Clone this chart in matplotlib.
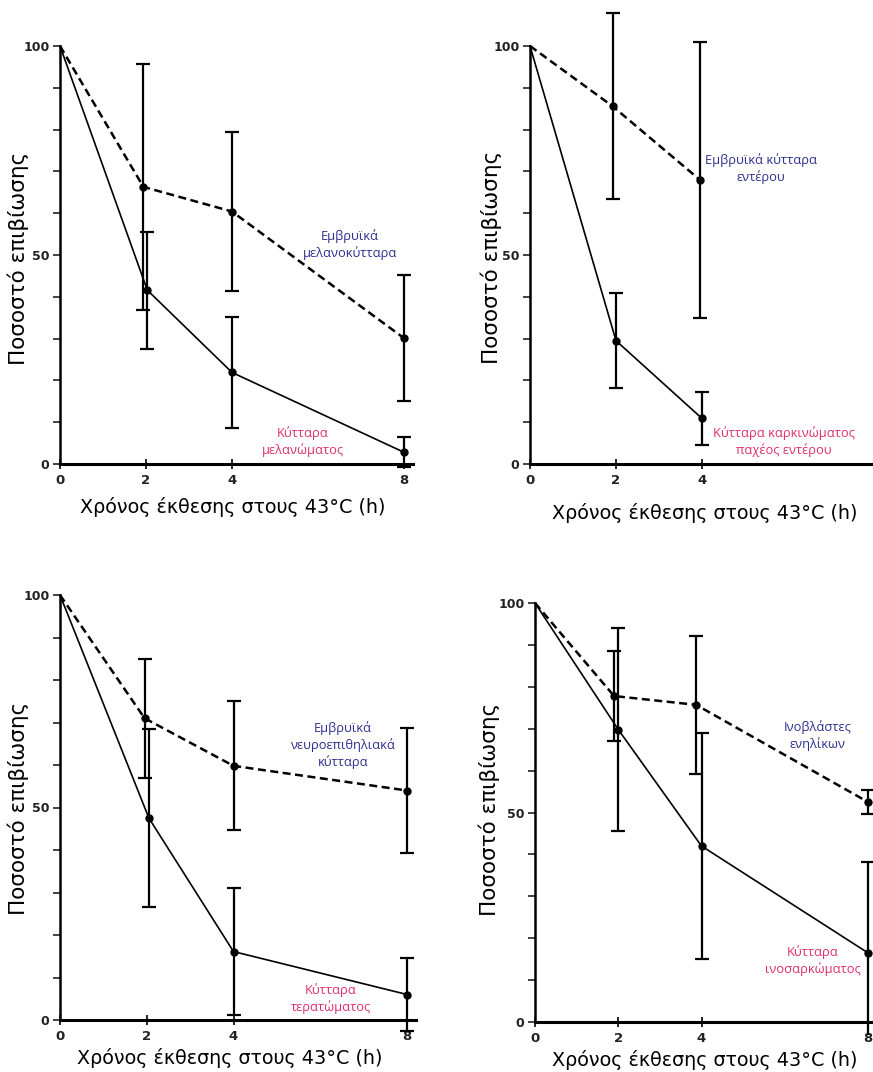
import matplotlib
matplotlib.use("Agg")
import matplotlib.pyplot as plt
from matplotlib.ticker import FixedLocator

W, H = 873, 1072

# panel 1: embryonic melanocytes vs melanoma
p1_x_dash = [0, 1.94, 4, 8]
p1_y_dash = [100, 66.3, 60.4, 30.1]
p1_e_dash = [29.4, 19.0, 15.0]
p1_x_sol = [0, 2.03, 4, 8]
p1_y_sol = [100, 41.6, 21.9, 2.8]
p1_e_sol = [14.0, 13.2, 3.6]

# panel 2: embryonic intestine vs colon carcinoma
p2_x_dash = [0, 1.92, 3.96]
p2_y_dash = [100, 85.6, 67.9]
p2_e_dash = [22.2, 33.0]
p2_x_sol = [0, 2.0, 4.0]
p2_y_sol = [100, 29.5, 10.9]
p2_e_sol = [11.3, 6.3]

# panel 3: embryonic neuroepithelial vs teratoma
p3_x_dash = [0, 1.95, 4, 8]
p3_y_dash = [100, 71.0, 59.8, 54.0]
p3_e_dash = [14.0, 15.2, 14.6]
p3_x_sol = [0, 2.05, 4, 8]
p3_y_sol = [100, 47.5, 16.1, 6.0]
p3_e_sol = [21.0, 15.0, 8.7]

# panel 4: adult fibroblasts vs fibrosarcoma
p4_x_dash = [0, 1.9, 3.87, 8]
p4_y_dash = [100, 77.8, 75.7, 52.5]
p4_e_dash = [10.7, 16.5, 2.8]
p4_x_sol = [0, 2.0, 4.0, 8]
p4_y_sol = [100, 69.8, 42.0, 16.5]
p4_e_sol = [24.3, 27.0, 21.7]

xlabel = "Χρόνος έκθεσης στους 43°C (h)"
ylabel = "Ποσοστό επιβίωσης"
blue = "#2e2f8f"
pink = "#e0306a"

fig = plt.figure(figsize=(W / 100, H / 100), dpi=100)


def place(px0, px8, py0, py100, xlim, ylim):
    sx = (px8 - px0) / 8.0
    sy = (py0 - py100) / 100.0
    left = px0 + xlim[0] * sx
    right = px0 + xlim[1] * sx
    bottom = py0 - ylim[0] * sy
    top = py0 - ylim[1] * sy
    ax = fig.add_axes([left / W, 1 - bottom / H, (right - left) / W, (bottom - top) / H])
    ax.set_xlim(*xlim)
    ax.set_ylim(*ylim)
    return ax


def style(ax, xticks, xmax):
    for s in ["top", "right"]:
        ax.spines[s].set_visible(False)
    ax.spines["left"].set_position(("data", 0))
    ax.spines["left"].set_bounds(0, 100)
    ax.spines["bottom"].set_position(("data", 0))
    ax.spines["bottom"].set_bounds(0, xmax)
    ax.spines["left"].set_linewidth(1.8)
    ax.spines["bottom"].set_linewidth(2.2)
    ax.set_yticks([0, 50, 100])
    ax.yaxis.set_minor_locator(FixedLocator(list(range(0, 101, 10))))
    ax.set_xticks(xticks)
    ax.tick_params(axis="y", which="both", direction="out", length=5, width=1.2,
                   colors="#222222", labelsize=9, pad=2.5)
    ax.tick_params(axis="x", direction="inout", length=7, width=1.2, labelsize=9.5, pad=4)
    for t in ax.get_xticklabels() + ax.get_yticklabels():
        t.set_fontweight("bold")
        t.set_color("#222222")
    ax.patch.set_alpha(0)


def curves(ax, xd, yd, ed, xs, ys, es):
    ax.plot(xd, yd, color="black", lw=1.8, ls=(0, (3.2, 1.8)))
    ax.plot(xs, ys, color="black", lw=1.2)
    ax.errorbar(xd[1:], yd[1:], yerr=ed, fmt="o", color="black", ms=5,
                elinewidth=1.6, capsize=5, capthick=1.6)
    ax.errorbar(xs[1:], ys[1:], yerr=es, fmt="o", color="black", ms=5,
                elinewidth=1.6, capsize=5, capthick=1.6)


def labels(ax, xl, yl):
    ax.set_xlabel(xlabel, fontsize=13.8)
    ax.set_ylabel(ylabel, fontsize=15.5)
    ax.xaxis.set_label_coords(xl[0] / W, 1 - xl[1] / H, transform=fig.transFigure)
    ax.yaxis.set_label_coords(yl[0] / W, 1 - yl[1] / H, transform=fig.transFigure)
    ax.xaxis.label.set_va("center")
    ax.yaxis.label.set_va("center")


def note(ax, x, y, s, c):
    ax.text(x, y, s, color=c, ha="center", va="center", fontsize=9.3,
            family="Open Sans", linespacing=1.3)


# top left
ax1 = place(60, 404, 464, 46, (-0.2, 8.2), (-3, 111))
curves(ax1, p1_x_dash, p1_y_dash, p1_e_dash, p1_x_sol, p1_y_sol, p1_e_sol)
style(ax1, [0, 2, 4, 8], 8.2)
labels(ax1, (233, 507), (18, 258))
note(ax1, 6.74, 52.4, "Εμβρυϊκά\nμελανοκύτταρα", blue)
note(ax1, 5.65, 5.3, "Κύτταρα\nμελανώματος", pink)

# top right
ax2 = place(530, 874, 464, 46, (-0.2, 8.5), (-3, 111))
curves(ax2, p2_x_dash, p2_y_dash, p2_e_dash, p2_x_sol, p2_y_sol, p2_e_sol)
style(ax2, [0, 2, 4], 8.5)
labels(ax2, (705, 513), (491, 257))
note(ax2, 5.37, 70.7, "Εμβρυϊκά κύτταρα\nεντέρου", blue)
note(ax2, 5.9, 5.3, "Κύτταρα καρκινώματος\nπαχέος εντέρου", pink)

# bottom left
ax3 = place(60, 407, 1020, 595, (-0.2, 8.2), (-4, 104))
curves(ax3, p3_x_dash, p3_y_dash, p3_e_dash, p3_x_sol, p3_y_sol, p3_e_sol)
style(ax3, [0, 2, 4, 8], 8.2)
labels(ax3, (230, 1058), (18, 808))
note(ax3, 6.52, 64.7, "Εμβρυϊκά\nνευροεπιθηλιακά\nκύτταρα", blue)
note(ax3, 6.25, 5.1, "Κύτταρα\nτερατώματος", pink)

# bottom right
ax4 = place(535, 868, 1022, 603, (-0.2, 8.5), (-3, 104))
curves(ax4, p4_x_dash, p4_y_dash, p4_e_dash, p4_x_sol, p4_y_sol, p4_e_sol)
style(ax4, [0, 2, 4, 8], 8.5)
labels(ax4, (705, 1060), (489, 809))
note(ax4, 6.78, 68.4, "Ινοβλάστες\nενηλίκων", blue)
note(ax4, 6.68, 14.7, "Κύτταρα\nινοσαρκώματος", pink)

fig.savefig("out.png", dpi=100)
